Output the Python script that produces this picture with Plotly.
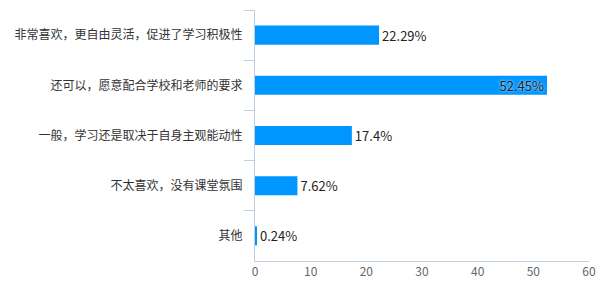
import plotly.graph_objects as go

categories = [
    "非常喜欢，更自由灵活，促进了学习积极性",
    "还可以，愿意配合学校和老师的要求",
    "一般，学习还是取决于自身主观能动性",
    "不太喜欢，没有课堂氛围",
    "其他",
]
values = [22.29, 52.45, 17.4, 7.62, 0.24]
labels = ["22.29%", "52.45%", "17.4%", "7.62%", "0.24%"]
positions = ["outside", "inside", "outside", "outside", "outside"]

font_family = "Noto Sans CJK SC, Noto Sans, sans-serif"
axis_color = "#C0D0E0"

fig = go.Figure(
    go.Bar(
        x=values,
        y=categories,
        orientation="h",
        marker=dict(color="#0096FF", line=dict(width=0)),
        text=labels,
        textposition=positions,
        insidetextanchor="end",
        constraintext="none",
        textfont=dict(family=font_family, size=13, color="#222222", shadow="0px 0px 3px white"),
        cliponaxis=False,
        hoverinfo="skip",
    )
)

fig.update_layout(
    width=600,
    height=300,
    margin=dict(l=255, r=11, t=10, b=39, autoexpand=False),
    paper_bgcolor="white",
    plot_bgcolor="white",
    bargap=0.62,
    showlegend=False,
    font=dict(family=font_family, size=12, color="#333333"),
)

fig.update_xaxes(
    range=[0, 60],
    dtick=10,
    showgrid=False,
    zeroline=False,
    showline=True,
    linecolor=axis_color,
    linewidth=1,
    ticks="",
    automargin=False,
    tickfont=dict(family=font_family, size=12, color="#666666"),
    fixedrange=True,
)

fig.update_yaxes(
    autorange="reversed",
    showgrid=False,
    zeroline=False,
    showline=True,
    linecolor=axis_color,
    linewidth=1,
    ticks="outside",
    tickson="boundaries",
    ticklen=10,
    tickcolor=axis_color,
    tickwidth=1,
    ticklabelstandoff=9,
    automargin=False,
    tickfont=dict(family=font_family, size=12, color="#333333"),
    fixedrange=True,
)

fig.write_html("out.html")
